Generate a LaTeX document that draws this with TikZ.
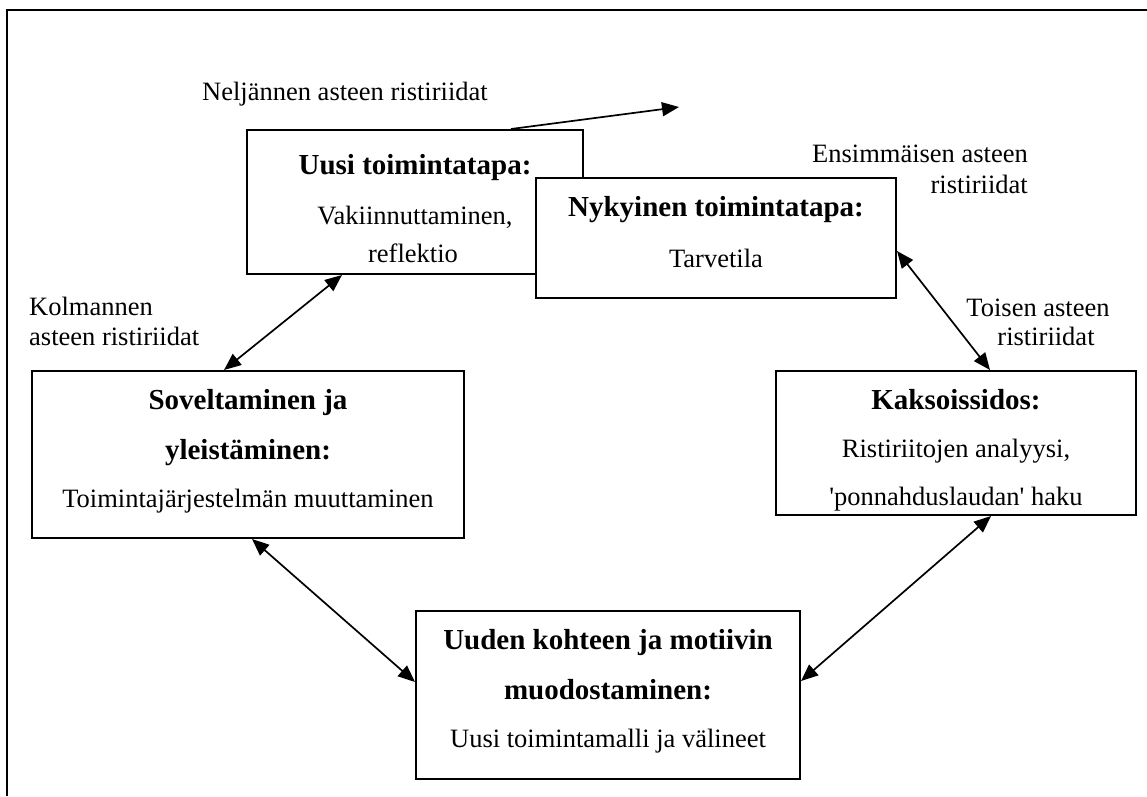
\documentclass[tikz,border=0pt]{standalone}
\usepackage{fontspec}
\setmainfont{Liberation Serif}
\usetikzlibrary{arrows.meta,calc}
\tikzset{
  boxnode/.style={draw, line width=2pt, fill=white, inner sep=0pt, rectangle},
  txt/.style={font=\fontsize{26.5}{30}\selectfont, inner sep=0pt, anchor=base},
  hd/.style={font=\fontsize{29}{33}\selectfont\bfseries, inner sep=0pt, anchor=base},
  conn/.style={line width=1.7pt, {Triangle[length=17pt,width=14pt]}-{Triangle[length=17pt,width=14pt]}},
  oneway/.style={line width=1.7pt, -{Triangle[length=17pt,width=14pt]}}
}
\begin{document}
\begin{tikzpicture}[x=1pt,y=-1pt]
\useasboundingbox (0,0) rectangle (1147,796);
% outer frame (top and left edges visible)
\draw[line width=2pt] (1147,10) -- (7,10) -- (7,796);

% boxes
\node[boxnode, minimum width=336pt, minimum height=144pt] (uusi) at (415,202) {};
\node[boxnode, minimum width=360pt, minimum height=120pt] (nyk) at (716,238) {};
\node[boxnode, minimum width=432pt, minimum height=167pt] (sov) at (248,454.5) {};
\node[boxnode, minimum width=360pt, minimum height=144pt] (kak) at (956,443) {};
\node[boxnode, minimum width=384pt, minimum height=168pt] (uud) at (608,695) {};

% box texts
\node[hd] (uusiA) at (415,174) {Uusi toimintatapa:};
\node[txt] (uusiB) at (415,224) {Vakiinnuttaminen,};
\node[txt] (uusiC) at (413,262) {reflektio};

\node[hd] (nykA) at (716,216) {Nykyinen toimintatapa:};
\node[txt] (nykB) at (716,267) {Tarvetila};

\node[hd] (sovA) at (248,409) {Soveltaminen ja};
\node[hd] (sovB) at (248,459) {yleistäminen:};
\node[txt] (sovC) at (248,507) {Toimintajärjestelmän muuttaminen};

\node[hd] (kakA) at (956,409) {Kaksoissidos:};
\node[txt] (kakB) at (956,457) {Ristiriitojen analyysi,};
\node[txt] (kakC) at (956,505) {\textquotesingle ponnahduslaudan\textquotesingle\ haku};

\node[hd] (uudA) at (608,649) {Uuden kohteen ja motiivin};
\node[hd] (uudB) at (608,699) {muodostaminen:};
\node[txt] (uudC) at (608,747) {Uusi toimintamalli ja välineet};

% connector labels
\node[txt, anchor=base west] (l4) at (202,100) {Neljännen asteen ristiriidat};
\node[txt, anchor=base east] (l1a) at (1028,162) {Ensimmäisen asteen};
\node[txt, anchor=base east] (l1b) at (1028,193) {ristiriidat};
\node[txt] (l2a) at (1038,316) {Toisen asteen};
\node[txt] (l2b) at (1046,345) {ristiriidat};
\node[txt, anchor=base west] (l3a) at (29,315) {Kolmannen};
\node[txt, anchor=base west] (l3b) at (29,345) {asteen ristiriidat};

% connectors
\coordinate (c4) at (679,107);
\draw[oneway] ($(uusi.north west)+(265,0)$) -- (c4);
\draw[conn] ($(uusi.south west)+(96,0)$) -- ($(sov.north west)+(193,0)$);
\draw[conn] ($(nyk.north east)+(0,74)$) -- ($(kak.north west)+(215,0)$);
\draw[conn] ($(sov.south west)+(221,0)$) -- ($(uud.north west)+(0,72)$);
\draw[conn] ($(kak.south west)+(216,0)$) -- ($(uud.north east)+(0,71)$);
\end{tikzpicture}
\end{document}
